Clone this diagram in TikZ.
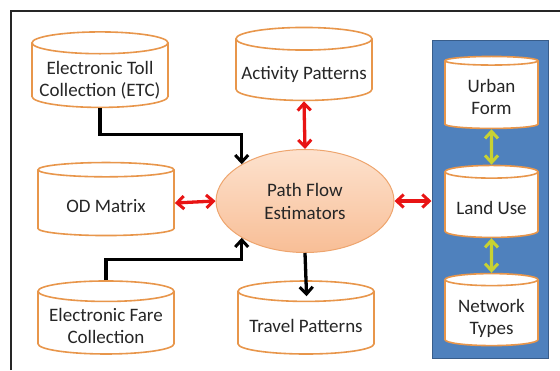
\documentclass[tikz,border=0pt]{standalone}
\usepackage{fontspec}
\setmainfont{Carlito}
\usetikzlibrary{arrows.meta, calc, positioning, shapes.geometric}
\definecolor{caseorange}{RGB}{232,150,75}
\definecolor{peachtop}{RGB}{253,226,206}
\definecolor{peachbot}{RGB}{248,190,150}
\definecolor{peachline}{RGB}{238,165,110}
\definecolor{panelblue}{RGB}{79,129,189}
\definecolor{panelline}{RGB}{56,93,138}
\definecolor{linkred}{RGB}{232,20,20}
\definecolor{linkgreen}{RGB}{200,210,50}

\begin{document}
\begin{tikzpicture}[x=1pt, y=-1pt,
    store/.style={cylinder, shape border rotate=90, aspect=0.18, draw=caseorange, fill=white,
        line width=1.6pt, minimum width=136pt, minimum height=73pt, inner sep=0pt,
        align=center, text=black!85, font=\fontsize{19}{22}\selectfont,
        text height=#1, text depth=0pt},
    store/.default=19pt,
    smallstore/.style={store=#1, minimum width=93pt, minimum height=72pt},
    smallstore/.default=19pt,
    flow/.style={-{Straight Barb[length=7pt, width=13pt, line width=3pt]}, line width=3.3pt, black},
    link/.style={{Straight Barb[length=7pt, width=13pt, line width=3pt]}-{Straight Barb[length=7pt, width=13pt, line width=3pt]}, line width=3.3pt, linkred},
    sublink/.style={link, linkgreen}]
    \useasboundingbox (0,0) rectangle (560,370);
    \draw[line width=2.5pt, black!85] (11,370) -- (11,11) -- (560,11);

    % right-hand panel
    \node[draw=panelline, fill=panelblue, line width=1pt, minimum width=116pt, minimum height=318pt] (pnl) at (490,199) {};
    \node[smallstore=39pt] (urb) at (491.5,95) {Urban\\Form};
    \node[smallstore] (lnd) at (491.5,205) {Land Use};
    \node[smallstore=42pt] (net) at (491.5,313) {Network\\Types};

    % central estimator
    \node[ellipse, draw=peachline, line width=1pt, top color=peachtop, bottom color=peachbot,
        minimum width=178pt, minimum height=103pt, align=center, text=black!85,
        font=\fontsize{19}{23}\selectfont] (pfe) at (305,201) {Path Flow\\Estimators};

    \node[store=42pt] (etc) at (100,75.5) {Electronic Toll\\Collection (ETC)};
    \node[store] (act) at (304,70) {Activity Patterns};
    \node[store] (odm) at (106,203) {OD Matrix};
    \node[store=41pt] (efc) at (106,323) {Electronic Fare\\Collection};
    \node[store] (trv) at (306,323) {Travel Patterns};

    \draw[flow] (etc.south) -- ++(0,26) -| (pfe.north west);
    \draw[flow] (efc.north) -- ++(0,-21) -| (pfe.south west);
    \draw[flow, shorten >=-16pt] (pfe.south) -- (trv.north);
    \draw[link] (act.south) -- (pfe.north);
    \draw[link] (odm.east) -- (pfe.west);
    \draw[link] (pfe.east) -- (pfe.east -| pnl.west);
    \draw[sublink] (urb.south) -- (lnd.north);
    \draw[sublink] (lnd.south) -- (net.north);
\end{tikzpicture}
\end{document}
